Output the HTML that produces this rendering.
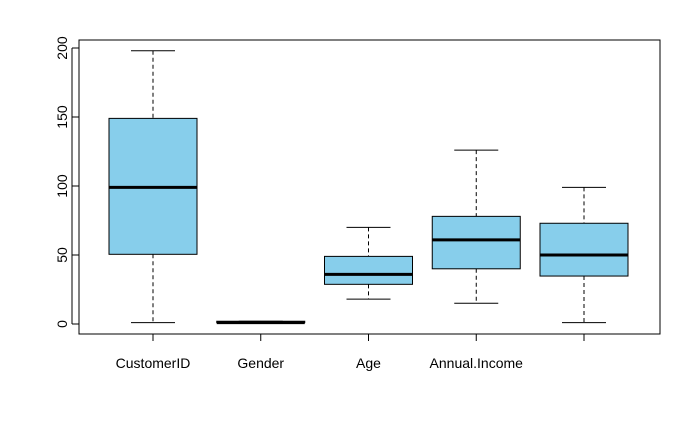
<!DOCTYPE html>
<html><head><meta charset="utf-8"><style>
body{margin:0;background:#fff}
svg text{font-family:"Liberation Sans",Arial,sans-serif;font-size:14px;fill:#000}
</style></head><body>
<svg id="chart" width="700" height="432" xmlns="http://www.w3.org/2000/svg">
<rect x="79" y="40" width="581" height="294" fill="none" stroke="#000"/>
<g id="marks"></g>
</svg>
<script>
const categories=["CustomerID","Gender","Age","Annual.Income",""];
const mins=[1,1,18,15,1];
const q1s=[50.5,1,28.75,40,34.75];
const medians=[99,1,36,61,50];
const q3s=[149,2,49,78,73];
const maxs=[198,2,70,126,99];
const yTicks=[0,50,100,150,200];
const NS="http://www.w3.org/2000/svg";
const g=document.getElementById('marks');
const y=v=>324-v*1.38;
const x=i=>153+i*107.75;
function el(t,a){const e=document.createElementNS(NS,t);for(const k in a)e.setAttribute(k,a[k]);g.appendChild(e);return e;}
const hw=44;
yTicks.forEach(t=>{
 const l=el('line',{x1:79,x2:72,y1:y(t),y2:y(t),stroke:'#000'});
 
 
 const tx=el('text',{x:67,y:y(t),'text-anchor':'middle',transform:`rotate(-90 67 ${y(t)})`});
 tx.textContent=t;
 
 
});
el('line',{x1:72,x2:72,y1:y(0),y2:y(200),stroke:'#000'});
categories.forEach((c,i)=>{
 const cx=x(i);
 const t=el('line',{x1:cx,x2:cx,y1:334,y2:341,stroke:'#000'});
 
 
 const lb=el('text',{x:cx,y:368,'text-anchor':'middle'});
 lb.textContent=c;
 
 
 const w1=el('line',{x1:cx,x2:cx,y1:y(maxs[i]),y2:y(q3s[i]),stroke:'#000','stroke-dasharray':'4,3'});
 
 
 const w2=el('line',{x1:cx,x2:cx,y1:y(q1s[i]),y2:y(mins[i]),stroke:'#000','stroke-dasharray':'4,3'});
 
 
 const c1=el('line',{x1:cx-hw/2,x2:cx+hw/2,y1:y(maxs[i]),y2:y(maxs[i]),stroke:'#000'});
 
 
 const c2=el('line',{x1:cx-hw/2,x2:cx+hw/2,y1:y(mins[i]),y2:y(mins[i]),stroke:'#000'});
 
 
 const b=el('rect',{x:cx-hw,y:y(q3s[i]),width:hw*2,height:y(q1s[i])-y(q3s[i]),fill:'#87ceeb',stroke:'#000'});
 
 
 const m=el('line',{x1:cx-hw,x2:cx+hw,y1:y(medians[i]),y2:y(medians[i]),stroke:'#000','stroke-width':3});
 
 
});
</script>
</body></html>
